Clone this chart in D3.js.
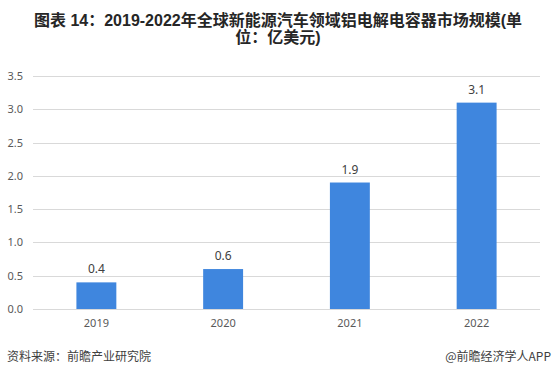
<!DOCTYPE html>
<html>
<head>
<meta charset="utf-8">
<script src="https://cdn.jsdelivr.net/npm/d3@7"></script>
<style>
  body { margin: 0; background: #fff; }
  svg { display: block; }
</style>
</head>
<body>
<div id="chart"></div>
<script>
var years = ["2019", "2020", "2021", "2022"];
var values = [0.4, 0.6, 1.9, 3.1];
var yTicks = [0, 0.5, 1.0, 1.5, 2.0, 2.5, 3.0, 3.5];
var titleLines = ["图表 14：2019-2022年全球新能源汽车领域铝电解电容器市场规模(单", "位：亿美元)"];
var sourceText = "资料来源：前瞻产业研究院";
var brandText = "@前瞻经济学人APP";

var W = 556, H = 377;
var margin = {top: 76, right: 16, bottom: 68, left: 33},
    width = W - margin.left - margin.right,
    height = H - margin.top - margin.bottom;

var root = d3.select("#chart").append("svg")
    .attr("width", W)
    .attr("height", H);

// title
root.append("g").selectAll("text")
    .data(titleLines)
    .enter().append("text")
    .attr("x", W / 2)
    .attr("y", function(d, i) { return 26 + i * 17; })
    .attr("text-anchor", "middle")
    .style("font-family", "'Liberation Sans', 'Noto Sans CJK SC', sans-serif")
    .style("font-weight", "bold")
    .style("font-size", "16px")
    .style("fill", "#262626")
    .text(function(d) { return d; });

var svg = root.append("g")
    .attr("transform", "translate(" + margin.left + "," + margin.top + ")");

var x = d3.scaleBand()
    .domain(years)
    .range([0, width])
    .paddingInner(0.685)
    .paddingOuter(0.3425);

var y = d3.scaleLinear()
    .domain([0, 3.5])
    .range([height, 0]);

// gridlines
svg.append("g")
    .selectAll("line")
    .data(yTicks)
    .enter().append("line")
    .attr("x1", 0)
    .attr("x2", width)
    .attr("y1", function(d) { return Math.round(y(d)) + 0.5; })
    .attr("y2", function(d) { return Math.round(y(d)) + 0.5; })
    .style("stroke", "#d9d9d9")
    .style("stroke-width", 1);

// y axis labels
var yAxis = svg.append("g")
    .call(d3.axisLeft(y).tickValues(yTicks).tickFormat(d3.format(".1f")).tickSize(0).tickPadding(10));
yAxis.select(".domain").remove();
yAxis.selectAll("text")
    .style("font-family", "'Noto Sans', 'DejaVu Sans', sans-serif")
    .style("font-size", "11px")
    .style("fill", "#595959");

// x axis labels
var xAxis = svg.append("g")
    .attr("transform", "translate(0," + height + ")")
    .call(d3.axisBottom(x).tickSize(0).tickPadding(10));
xAxis.select(".domain").remove();
xAxis.selectAll("text")
    .style("font-family", "'Noto Sans', 'DejaVu Sans', sans-serif")
    .style("font-size", "11px")
    .style("fill", "#595959");

// bars
svg.selectAll(".bar")
    .data(values)
    .enter().append("rect")
    .attr("class", "bar")
    .attr("x", function(d, i) { return x(years[i]); })
    .attr("y", function(d) { return y(d); })
    .attr("width", x.bandwidth())
    .attr("height", function(d) { return height - y(d); })
    .style("fill", "#3f86de");

// value labels
svg.selectAll(".label")
    .data(values)
    .enter().append("text")
    .attr("class", "label")
    .attr("x", function(d, i) { return x(years[i]) + x.bandwidth() / 2; })
    .attr("y", function(d) { return y(d) - 9; })
    .attr("text-anchor", "middle")
    .style("font-family", "'Noto Sans', 'DejaVu Sans', sans-serif")
    .style("font-size", "12px")
    .style("fill", "#404040")
    .text(function(d) { return d.toFixed(1); });

// footer
root.append("text")
    .attr("x", 7)
    .attr("y", 361)
    .style("font-family", "'Noto Sans CJK SC', sans-serif")
    .style("font-size", "12px")
    .style("fill", "#404040")
    .text(sourceText);

root.append("text")
    .attr("x", 551)
    .attr("y", 361)
    .attr("text-anchor", "end")
    .style("font-family", "'Noto Sans CJK SC', sans-serif")
    .style("font-size", "12px")
    .style("fill", "#404040")
    .text(brandText);
</script>
</body>
</html>
